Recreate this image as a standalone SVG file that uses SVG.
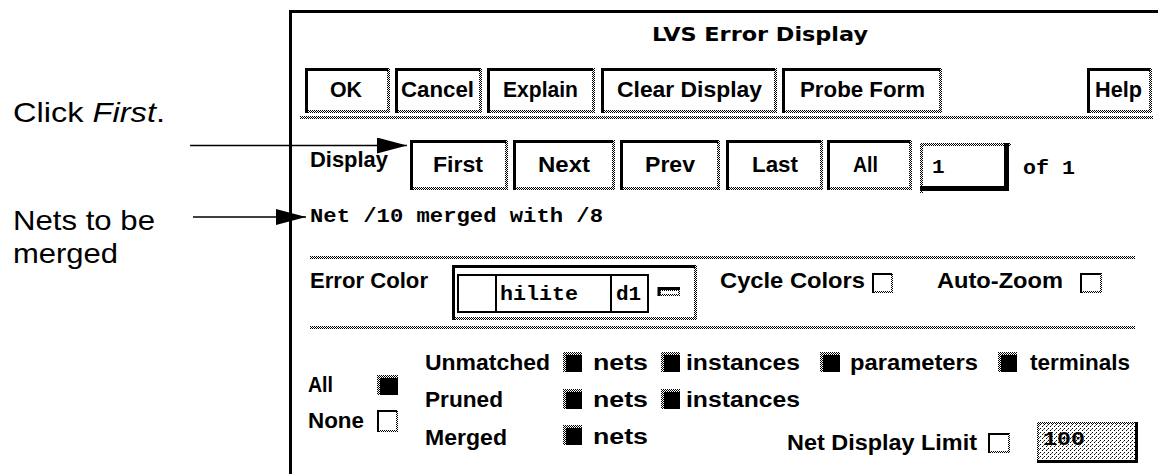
<svg xmlns="http://www.w3.org/2000/svg" width="1158" height="474" viewBox="0 0 1158 474">
<defs>
<pattern id="st" width="2" height="2" patternUnits="userSpaceOnUse"><rect width="2" height="2" fill="#fff"/><rect width="1" height="1" fill="#000"/><rect x="1" y="1" width="1" height="1" fill="#000"/></pattern>
<pattern id="st2" width="4" height="4" patternUnits="userSpaceOnUse"><rect width="4" height="4" fill="#fff"/><rect width="1" height="1" fill="#000"/><rect x="2" y="2" width="1" height="1" fill="#000"/><rect x="3" y="1" width="1" height="1" fill="#666"/></pattern>
<marker id="ah" viewBox="0 0 30 16" refX="30" refY="8" markerWidth="30" markerHeight="16" markerUnits="userSpaceOnUse" orient="auto"><path d="M0,0 L30,8 L0,16 Z" fill="#000"/></marker>
</defs>
<style>
.ui{font-family:"Liberation Sans",Arial,Helvetica,sans-serif;font-weight:bold;font-size:22px;fill:#000}
.mono{font-family:"Liberation Mono","Courier New",monospace;font-weight:bold;font-size:21px;fill:#000}
.note{font-family:"Liberation Sans",Arial,Helvetica,sans-serif;font-size:28px;fill:#000}
.title{font-family:"DejaVu Sans",Verdana,sans-serif;font-weight:bold;font-size:20px;fill:#000}
.blk{fill:none;stroke:#000;stroke-width:3}
.stp{fill:url(#st)}
.bg{fill:#fff}
.conn{stroke:#000;stroke-width:1.3;fill:none}
</style>
<rect width="1158" height="474" fill="#fff"/>

<g id="annotations">
<text class="note" x="13" y="122" textLength="152" lengthAdjust="spacingAndGlyphs">Click <tspan font-style="italic">First</tspan>.</text>
<text class="note" x="13" y="230" textLength="142" lengthAdjust="spacingAndGlyphs">Nets to be</text>
<text class="note" x="13" y="263" textLength="105" lengthAdjust="spacingAndGlyphs">merged</text>
</g>

<g id="window">
<path d="M290.5,474 V11.5 H1158" class="blk"/>
<text class="title" x="652" y="41" textLength="216" lengthAdjust="spacingAndGlyphs">LVS Error Display</text>
</g>

<g id="top-buttons">
<g id="btn-ok"><rect class="stp" x="387" y="68" width="3" height="45"/><rect class="stp" x="305" y="110" width="85" height="3"/><path class="blk" d="M306.5,113 V69.5 H388"/><text class="ui" x="330" y="97" textLength="32" lengthAdjust="spacingAndGlyphs">OK</text></g>
<g id="btn-cancel"><rect class="stp" x="479" y="68" width="3" height="45"/><rect class="stp" x="395" y="110" width="87" height="3"/><path class="blk" d="M396.5,113 V69.5 H480"/><text class="ui" x="401" y="97" textLength="73" lengthAdjust="spacingAndGlyphs">Cancel</text></g>
<g id="btn-explain"><rect class="stp" x="592" y="68" width="3" height="45"/><rect class="stp" x="487" y="110" width="108" height="3"/><path class="blk" d="M488.5,113 V69.5 H593"/><text class="ui" x="503" y="97" textLength="75" lengthAdjust="spacingAndGlyphs">Explain</text></g>
<g id="btn-clear"><rect class="stp" x="774" y="68" width="3" height="45"/><rect class="stp" x="601" y="110" width="176" height="3"/><path class="blk" d="M602.5,113 V69.5 H775"/><text class="ui" x="617" y="97" textLength="145" lengthAdjust="spacingAndGlyphs">Clear Display</text></g>
<g id="btn-probe"><rect class="stp" x="939" y="68" width="3" height="45"/><rect class="stp" x="782" y="110" width="160" height="3"/><path class="blk" d="M783.5,113 V69.5 H940"/><text class="ui" x="800" y="97" textLength="125" lengthAdjust="spacingAndGlyphs">Probe Form</text></g>
<g id="btn-help"><rect class="stp" x="1149" y="68" width="3" height="45"/><rect class="stp" x="1087" y="110" width="65" height="3"/><path class="blk" d="M1088.5,113 V69.5 H1150"/><text class="ui" x="1095" y="97" textLength="47" lengthAdjust="spacingAndGlyphs">Help</text></g>
<rect class="stp" x="300" y="116" width="853" height="3"/>
</g>

<g id="display-row">
<text class="ui" x="310" y="167" textLength="78" lengthAdjust="spacingAndGlyphs">Display</text>
<g id="btn-first"><rect class="stp" x="505" y="140" width="3" height="50"/><rect class="stp" x="410" y="187" width="98" height="3"/><path class="blk" d="M411.5,190 V141.5 H506"/><text class="ui" x="433" y="172" textLength="50" lengthAdjust="spacingAndGlyphs">First</text></g>
<g id="btn-next"><rect class="stp" x="612" y="140" width="3" height="50"/><rect class="stp" x="513" y="187" width="102" height="3"/><path class="blk" d="M514.5,190 V141.5 H613"/><text class="ui" x="538" y="172" textLength="52" lengthAdjust="spacingAndGlyphs">Next</text></g>
<g id="btn-prev"><rect class="stp" x="717" y="140" width="3" height="50"/><rect class="stp" x="620" y="187" width="100" height="3"/><path class="blk" d="M621.5,190 V141.5 H718"/><text class="ui" x="645" y="172" textLength="50" lengthAdjust="spacingAndGlyphs">Prev</text></g>
<g id="btn-last"><rect class="stp" x="820" y="140" width="3" height="50"/><rect class="stp" x="726" y="187" width="97" height="3"/><path class="blk" d="M727.5,190 V141.5 H821"/><text class="ui" x="752" y="172" textLength="46" lengthAdjust="spacingAndGlyphs">Last</text></g>
<g id="btn-all"><rect class="stp" x="909" y="140" width="3" height="50"/><rect class="stp" x="827" y="187" width="85" height="3"/><path class="blk" d="M828.5,190 V141.5 H910"/><text class="ui" x="853" y="172" textLength="25" lengthAdjust="spacingAndGlyphs">All</text></g>
<g id="field-index"><rect class="stp" x="920" y="143" width="91" height="3"/><rect class="stp" x="920" y="143" width="3" height="50"/><path d="M1006.5,143 V188.5 H920" fill="none" stroke="#000" stroke-width="5"/><text class="mono" x="932" y="173">1</text></g>
<text class="mono" x="1023" y="174" textLength="52" lengthAdjust="spacingAndGlyphs">of 1</text>
</g>

<g id="message">
<text class="mono" x="310" y="222" textLength="293" lengthAdjust="spacingAndGlyphs">Net /10 merged with /8</text>
<rect class="stp" x="310" y="256" width="825" height="3"/>
</g>

<g id="error-color-row">
<text class="ui" x="310" y="288" textLength="118" lengthAdjust="spacingAndGlyphs">Error Color</text>
<g id="combo">
<rect class="stp" x="694" y="265" width="3" height="55"/><rect class="stp" x="452" y="317" width="245" height="3"/>
<path class="blk" d="M453.5,320 V266.5 H695"/>
<rect x="458" y="275" width="190" height="37" fill="none" stroke="#000" stroke-width="2"/>
<line x1="496" y1="275" x2="496" y2="312" stroke="#000" stroke-width="2"/>
<line x1="611" y1="275" x2="611" y2="312" stroke="#000" stroke-width="2"/>
<text class="mono" x="500" y="300" textLength="78" lengthAdjust="spacingAndGlyphs">hilite</text>
<text class="mono" x="616" y="300">d1</text>
<rect class="stp" x="658" y="288" width="22" height="8"/><rect class="bg" x="661" y="291" width="17" height="3"/><path d="M659,296 V288.5 H680" fill="none" stroke="#000" stroke-width="3"/>
</g>
<text class="ui" x="720" y="288" textLength="145" lengthAdjust="spacingAndGlyphs">Cycle Colors</text>
<g id="cb-cycle"><rect class="stp" x="872" y="273" width="21" height="20"/><rect class="bg" x="874" y="275" width="17" height="16"/><path d="M873,293 V274 H892" fill="none" stroke="#000" stroke-width="2"/></g>
<text class="ui" x="937" y="288" textLength="126" lengthAdjust="spacingAndGlyphs">Auto-Zoom</text>
<g id="cb-autozoom"><rect class="stp" x="1080" y="273" width="22" height="20"/><rect class="bg" x="1082" y="275" width="18" height="16"/><path d="M1081,293 V274 H1101" fill="none" stroke="#000" stroke-width="2"/></g>
<rect class="stp" x="310" y="326" width="825" height="3"/>
</g>

<g id="filters">
<text class="ui" x="308" y="392" textLength="25" lengthAdjust="spacingAndGlyphs">All</text>
<g id="cb-all"><rect class="stp" x="377" y="375" width="21" height="20"/><rect x="380" y="378" width="18" height="17" fill="#000"/></g>
<text class="ui" x="308" y="428" textLength="56" lengthAdjust="spacingAndGlyphs">None</text>
<g id="cb-none"><rect class="stp" x="377" y="410" width="21" height="22"/><rect class="bg" x="379" y="412" width="17" height="18"/><path d="M378,432 V411 H397" fill="none" stroke="#000" stroke-width="2"/></g>

<text class="ui" x="425" y="370" textLength="125" lengthAdjust="spacingAndGlyphs">Unmatched</text>
<g id="cb-u-nets"><rect class="stp" x="563" y="352" width="19" height="20"/><rect x="566" y="355" width="16" height="17" fill="#000"/></g>
<text class="ui" x="593" y="370" textLength="55" lengthAdjust="spacingAndGlyphs">nets</text>
<g id="cb-u-inst"><rect class="stp" x="661" y="352" width="19" height="20"/><rect x="664" y="355" width="16" height="17" fill="#000"/></g>
<text class="ui" x="686" y="370" textLength="114" lengthAdjust="spacingAndGlyphs">instances</text>
<g id="cb-u-param"><rect class="stp" x="820" y="352" width="20" height="20"/><rect x="823" y="355" width="17" height="17" fill="#000"/></g>
<text class="ui" x="850" y="370" textLength="128" lengthAdjust="spacingAndGlyphs">parameters</text>
<g id="cb-u-term"><rect class="stp" x="998" y="352" width="19" height="20"/><rect x="1001" y="355" width="16" height="17" fill="#000"/></g>
<text class="ui" x="1030" y="370" textLength="100" lengthAdjust="spacingAndGlyphs">terminals</text>

<text class="ui" x="425" y="407" textLength="78" lengthAdjust="spacingAndGlyphs">Pruned</text>
<g id="cb-p-nets"><rect class="stp" x="563" y="389" width="19" height="20"/><rect x="566" y="392" width="16" height="17" fill="#000"/></g>
<text class="ui" x="593" y="407" textLength="55" lengthAdjust="spacingAndGlyphs">nets</text>
<g id="cb-p-inst"><rect class="stp" x="661" y="389" width="19" height="20"/><rect x="664" y="392" width="16" height="17" fill="#000"/></g>
<text class="ui" x="686" y="407" textLength="114" lengthAdjust="spacingAndGlyphs">instances</text>

<text class="ui" x="425" y="445" textLength="82" lengthAdjust="spacingAndGlyphs">Merged</text>
<g id="cb-m-nets"><rect class="stp" x="563" y="425" width="19" height="20"/><rect x="566" y="428" width="16" height="17" fill="#000"/></g>
<text class="ui" x="593" y="444" textLength="55" lengthAdjust="spacingAndGlyphs">nets</text>

<text class="ui" x="787" y="450" textLength="190" lengthAdjust="spacingAndGlyphs">Net Display Limit</text>
<g id="cb-limit"><rect class="stp" x="988" y="433" width="22" height="20"/><rect class="bg" x="990" y="435" width="18" height="16"/><path d="M989,453 V434 H1009" fill="none" stroke="#000" stroke-width="2"/></g>
<g id="field-limit"><rect fill="url(#st2)" x="1037" y="422" width="101" height="41"/><rect class="stp" x="1037" y="422" width="101" height="2"/><rect class="stp" x="1037" y="422" width="2" height="41"/><path d="M1136.5,422 V461.5 H1037" fill="none" stroke="#000" stroke-width="3"/><text class="mono" x="1043" y="445" textLength="42" lengthAdjust="spacingAndGlyphs">100</text></g>
</g>

<g id="connectors">
<line class="conn" x1="190" y1="145.5" x2="407" y2="145.5" marker-end="url(#ah)"/>
<line class="conn" x1="193" y1="217" x2="306" y2="217" marker-end="url(#ah)"/>
</g>
</svg>
